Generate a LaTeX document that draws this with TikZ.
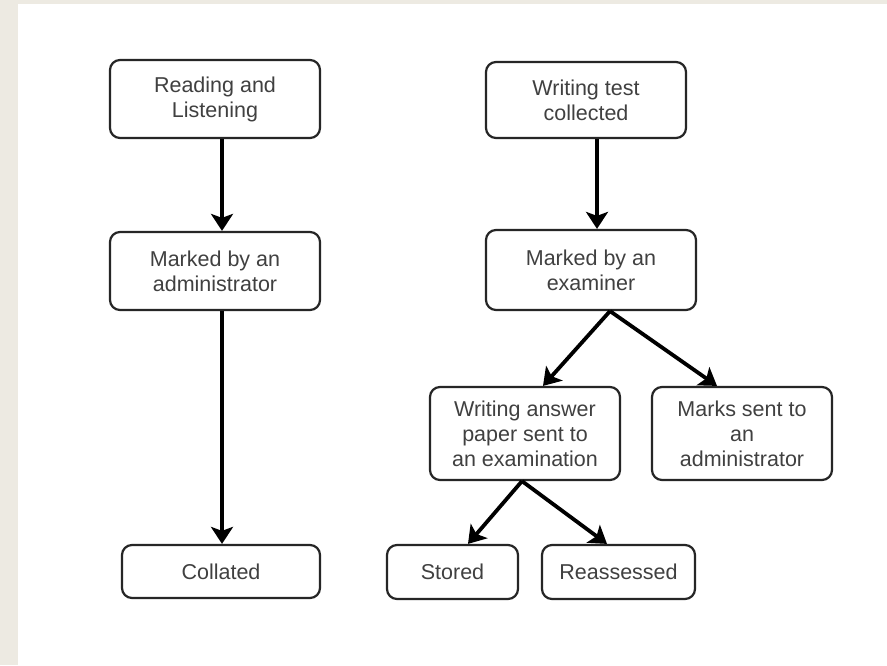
\documentclass[tikz,border=0pt]{standalone}
\usepackage{fontspec}
\setmainfont{Liberation Sans}
\usetikzlibrary{arrows.meta}
\definecolor{pagebg}{HTML}{EDEAE2}
\tikzset{
  box/.style={draw=black!85, line width=2.2pt, rounded corners=10pt, fill=white,
    inner sep=0pt, align=center, text=black!75,
    font=\fontsize{21.5}{25}\selectfont},
  arr/.style={line width=3.8pt, -{Stealth[length=17pt,width=22pt,inset=4pt]}}
}
\begin{document}
\begin{tikzpicture}[x=1pt,y=-1pt]
  %% page
  \useasboundingbox (0,0) rectangle (887,665);
  \fill[pagebg] (0,0) rectangle (887,665);
  \fill[white] (18,4) rectangle (887,665);

  %% left column
  \node[box, minimum width=210pt, minimum height=78pt] (read) at (215,99) {Reading and\\Listening};
  \node[box, minimum width=210pt, minimum height=78pt] (markA) at (215,271) {Marked by an\\administrator};
  \node[box, minimum width=198pt, minimum height=53pt] (coll) at (221,571.5) {Collated};

  %% right column
  \node[box, minimum width=200pt, minimum height=76pt] (write) at (586,100) {Writing test\\collected};
  \node[box, minimum width=210pt, minimum height=80pt] (markE) at (591,270) {Marked by an\\examiner};
  \node[box, minimum width=190pt, minimum height=93pt] (answer) at (525,433.5) {Writing answer\\paper sent to\\an examination};
  \node[box, minimum width=180pt, minimum height=93pt] (marks) at (742,433.5) {Marks sent to\\an\\administrator};
  \node[box, minimum width=131pt, minimum height=54pt] (stored) at (452.5,572) {Stored};
  \node[box, minimum width=153pt, minimum height=54pt] (reass) at (618.5,572) {Reassessed};

  %% arrows
  \draw[arr] ([xshift=7pt]read.south) -- ([xshift=7pt]markA.north);
  \draw[arr] ([xshift=7pt]markA.south) -- ([xshift=7pt]markA.south |- coll.north);
  \draw[arr] ([xshift=11pt]write.south) -- ([xshift=11pt]write.south |- markE.north);
  \draw[arr] ([xshift=19pt]markE.south) -- ([xshift=18pt]answer.north);
  \draw[arr] ([xshift=19pt]markE.south) -- ([xshift=-25pt]marks.north);
  \draw[arr] ([xshift=-3pt]answer.south) -- ([xshift=15.5pt]stored.north);
  \draw[arr] ([xshift=-3pt]answer.south) -- ([xshift=-11.5pt]reass.north);
\end{tikzpicture}
\end{document}
